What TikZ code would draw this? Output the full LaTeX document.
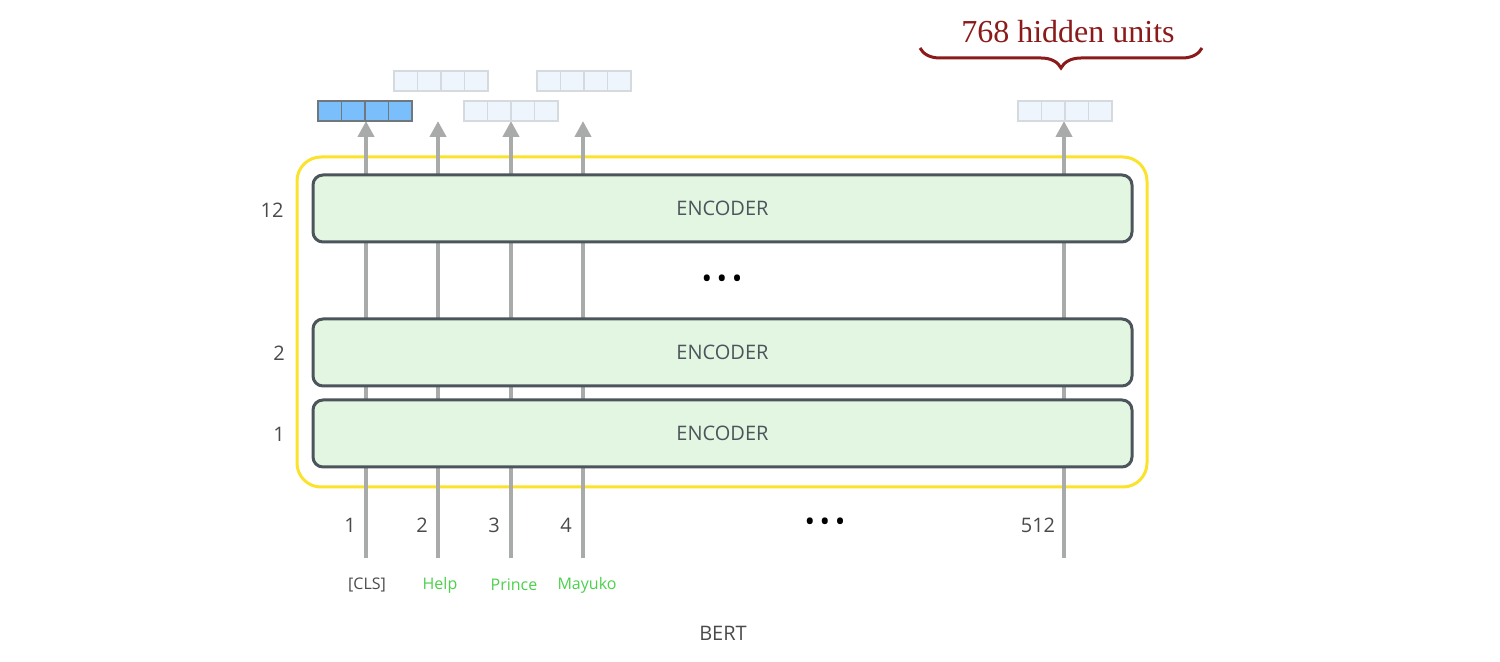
\documentclass[tikz,border=0pt]{standalone}
\usepackage{fontspec}
\setmainfont{Open Sans}
\newfontfamily\serifa{Liberation Serif}
\usetikzlibrary{decorations.pathreplacing,arrows.meta}
\definecolor{encfill}{HTML}{E3F6E1}
\definecolor{encdraw}{HTML}{4C555C}
\definecolor{arr}{HTML}{A8ABAA}
\definecolor{yel}{HTML}{FBE22C}
\definecolor{dkblue}{HTML}{7ABEFC}
\definecolor{ltblue}{HTML}{EEF5FD}
\definecolor{ltline}{HTML}{D5DADE}
\definecolor{grn}{HTML}{4CD04C}
\definecolor{txt}{HTML}{4A4A4A}
\definecolor{dred}{HTML}{8B1A1A}
\begin{document}
\begin{tikzpicture}[x=0.5pt,y=-0.5pt,
  enc/.style={draw=encdraw,fill=encfill,line width=1.5pt,rounded corners=5pt,minimum width=409.5pt,minimum height=33.5pt,font=\fontsize{10}{12}\selectfont\color{encdraw}},
  lbl/.style={font=\fontsize{10}{12}\selectfont,text=txt},
  word/.style={font=\fontsize{8}{10}\selectfont,text=grn},
  up/.style={draw=arr,line width=2pt,-{Triangle[width=8pt,length=8pt]}},
  vec/.style={draw=ltline,fill=ltblue,line width=0.6pt}]
\useasboundingbox (0,0) rectangle (1500,662);
\node[draw=yel,line width=1.5pt,rounded corners=12pt,minimum width=425pt,minimum height=165pt] (bert) at (722,322) {};
% arrows
\foreach \x/\n in {366/a,438/b,511/c,583/d,1064/e}{
  \coordinate (s\n) at (\x,558);
  \coordinate (t\n) at (\x,121);
  \draw[up] (s\n) -- (t\n);
}
\node[enc] (e12) at (722.5,208.5) {ENCODER};
\node[enc] (e2) at (722.5,352.5) {ENCODER};
\node[enc] (e1) at (722.5,433.5) {ENCODER};
\node[lbl] (l12) at (272,210) {12};
\node[lbl] (l2) at (279,353) {2};
\node[lbl] (l1) at (279,434) {1};
\node[font=\fontsize{14}{14}\selectfont] (d1) at (722,282) {\textbullet\,\textbullet\,\textbullet};
\node[font=\fontsize{14}{14}\selectfont] (d2) at (825,525) {\textbullet\,\textbullet\,\textbullet};
\node[lbl] (n1) at (350,525) {1};
\node[lbl] (n2) at (422,525) {2};
\node[lbl] (n3) at (494,525) {3};
\node[lbl] (n4) at (566,525) {4};
\node[lbl] (n5) at (1038,525) {512};
\node[word,text=txt] (w1) at (367,585) {[CLS]};
\node[word] (w2) at (440,585) {Help};
\node[word] (w3) at (514,585) {Prince};
\node[word] (w4) at (587,585) {Mayuko};
\node[lbl] (bt) at (723,633) {BERT};
% vectors
\foreach \x/\y in {464/101,394/71,537/71,1018/101}{
  \foreach \i in {0,1,2,3}{
    \draw[vec] (\x+\i*23.5,\y) rectangle (\x+\i*23.5+23.5,\y+20);
  }
}
\foreach \i in {0,1,2,3}{
  \draw[fill=dkblue,draw=encdraw!80,line width=0.6pt] (318+\i*23.5,101) rectangle (318+\i*23.5+23.5,121);
}
\coordinate (bl) at (920,48);
\coordinate (br) at (1202,48);
\draw[dred,line width=1.5pt,decorate,decoration={brace,mirror,amplitude=10pt,aspect=0.5}] (bl) -- (br);
\node[text=dred,font=\serifa\fontsize{16}{18}\selectfont] (h) at (1068,32) {768 hidden units};
\end{tikzpicture}
\end{document}
